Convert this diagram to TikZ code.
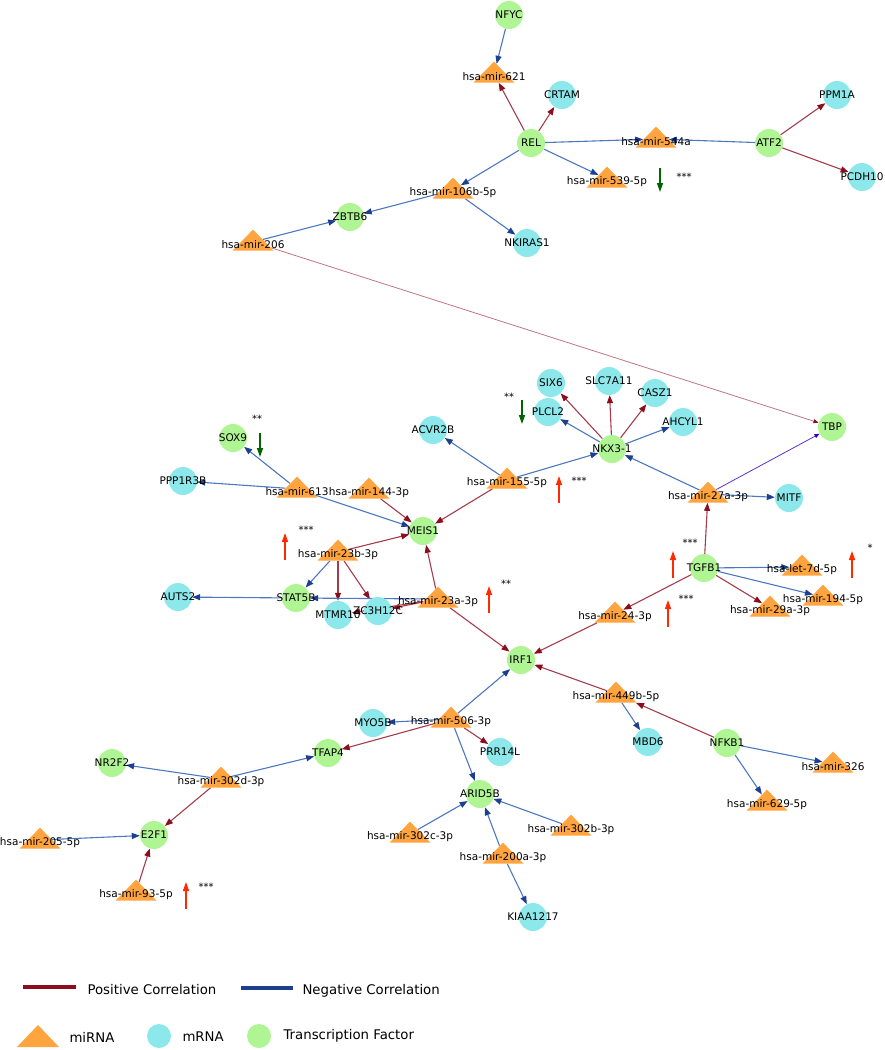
\documentclass[tikz,border=0pt]{standalone}
\usepackage{fontspec}
\setmainfont{DejaVu Sans}
\usetikzlibrary{arrows.meta,shapes.geometric,backgrounds}
\definecolor{tfc}{HTML}{B0F593}
\definecolor{mrc}{HTML}{8CE8EA}
\definecolor{mirc}{HTML}{FFA43F}
\definecolor{posc}{HTML}{A53C4C}
\definecolor{postip}{HTML}{8B0D1E}
\definecolor{negc}{HTML}{4C78BF}
\definecolor{negtip}{HTML}{1C3F91}
\definecolor{upc}{HTML}{FF2A00}
\definecolor{downc}{HTML}{006400}

\begin{document}
\begin{tikzpicture}[x=1pt,y=-1pt,font=\fontsize{10.5}{12}\selectfont,
  tf/.style={circle,fill=tfc,inner sep=0pt,minimum size=28pt,label={center:#1}},
  mr/.style={circle,fill=mrc,inner sep=0pt,minimum size=28pt,label={center:#1}},
  mir/.style={isosceles triangle,isosceles triangle stretches,shape border rotate=90,
    fill=mirc,inner sep=0pt,minimum width=41pt,minimum height=21pt,label={[yshift=-3pt]center:#1}},
  posedge/.style={draw=posc,line width=1.1pt,-{Triangle[length=8pt,width=6pt,color=postip]}},
  negedge/.style={draw=negc,line width=1.1pt,-{Triangle[length=8pt,width=6pt,color=negtip]}},
  uparrow/.style={upc,line width=1.4pt,-{Triangle[length=9pt,width=6pt]}},
  downarrow/.style={downc,line width=1.4pt,-{Triangle[length=9pt,width=6pt]}},
  stars/.style={font=\fontsize{10}{11}\selectfont}]
\useasboundingbox (0,0) rectangle (885,1050);

\node[tf=NFYC] (nfyc) at (509,15) {};
\node[tf=REL] (rel) at (531,143) {};
\node[tf=ATF2] (atf2) at (769,143) {};
\node[tf=ZBTB6] (zbtb6) at (350,217) {};
\node[tf=TBP] (tbp) at (832,427) {};
\node[tf=NKX3-1] (nkx) at (612,449) {};
\node[tf=SOX9] (sox9) at (233,438) {};
\node[tf=MEIS1] (meis1) at (423,531) {};
\node[tf=STAT5B] (stat5b) at (296,598) {};
\node[tf=TGFB1] (tgfb1) at (704,568) {};
\node[tf=IRF1] (irf1) at (521,660) {};
\node[tf=NFKB1] (nfkb1) at (727,743) {};
\node[tf=TFAP4] (tfap4) at (328,753) {};
\node[tf=NR2F2] (nr2f2) at (112,763) {};
\node[tf=ARID5B] (arid5b) at (480,794) {};
\node[tf=E2F1] (e2f1) at (154,835) {};

\node[mr=CRTAM] (crtam) at (562,95) {};
\node[mr=PPM1A] (ppm1a) at (837,95) {};
\node[mr=PCDH10] (pcdh10) at (862,177) {};
\node[mr=NKIRAS1] (nkiras1) at (527,243) {};
\node[mr=SIX6] (six6) at (551,383) {};
\node[mr=SLC7A11] (slc7a11) at (609,381) {};
\node[mr=CASZ1] (casz1) at (655,393) {};
\node[mr=PLCL2] (plcl2) at (548,412) {};
\node[mr=AHCYL1] (ahcyl1) at (683,422) {};
\node[mr=ACVR2B] (acvr2b) at (433,430) {};
\node[mr=PPP1R3B] (ppp1r3b) at (183,481) {};
\node[mr=MITF] (mitf) at (789,498) {};
\node[mr=AUTS2] (auts2) at (178,597) {};
\node[mr=MTMR10] (mtmr10) at (338,615) {};
\node[mr=ZC3H12C] (zc3h12c) at (378,611) {};
\node[mr=MYO5B] (myo5b) at (373,723) {};
\node[mr=PRR14L] (prr14l) at (500,752) {};
\node[mr=MBD6] (mbd6) at (648,742) {};
\node[mr=KIAA1217] (kiaa1217) at (533,917) {};

\node[mir=hsa-mir-621] (m621) at (494,74) {};
\node[mir=hsa-mir-544a] (m544a) at (656,139) {};
\node[mir=hsa-mir-539-5p] (m539) at (607,179) {};
\node[mir=hsa-mir-106b-5p] (m106b) at (453,190) {};
\node[mir=hsa-mir-206] (m206) at (253,242) {};
\node[mir=hsa-mir-155-5p] (m155) at (507,480) {};
\node[mir=hsa-mir-613] (m613) at (297,489) {};
\node[mir=hsa-mir-144-3p] (m144) at (369,490) {};
\node[mir=hsa-mir-27a-3p] (m27a) at (708,494) {};
\node[mir=hsa-mir-23b-3p] (m23b) at (338,552) {};
\node[mir=hsa-mir-23a-3p] (m23a) at (438,599) {};
\node[mir=hsa-let-7d-5p] (let7d) at (802,567) {};
\node[mir=hsa-mir-194-5p] (m194) at (823,597) {};
\node[mir=hsa-mir-29a-3p] (m29a) at (770,608) {};
\node[mir=hsa-mir-24-3p] (m24) at (615,614) {};
\node[mir=hsa-mir-449b-5p] (m449b) at (616,694) {};
\node[mir=hsa-mir-506-3p] (m506) at (451,719) {};
\node[mir=hsa-mir-326] (m326) at (833,764) {};
\node[mir=hsa-mir-629-5p] (m629) at (767,802) {};
\node[mir=hsa-mir-302d-3p] (m302d) at (221,779) {};
\node[mir=hsa-mir-302b-3p] (m302b) at (571,827) {};
\node[mir=hsa-mir-302c-3p] (m302c) at (410,834) {};
\node[mir=hsa-mir-200a-3p] (m200a) at (503,855) {};
\node[mir=hsa-mir-205-5p] (m205) at (40,840) {};
\node[mir=hsa-mir-93-5p] (m93) at (136,892) {};

\begin{pgfonlayer}{background}
\foreach \a/\b in {rel/m621,rel/crtam,atf2/ppm1a,atf2/pcdh10,nkx/six6,nkx/slc7a11,nkx/casz1,
  m155/meis1,tgfb1/m27a,tgfb1/m29a,tgfb1/m24,m24/irf1,m144/meis1,m23b/meis1,m23b/mtmr10,
  m23b/zc3h12c,m23a/meis1,m23a/zc3h12c,m23a/mtmr10,m23a/irf1,m506/tfap4,m506/prr14l,
  m449b/irf1,nfkb1/m449b,m302d/e2f1,m93/e2f1}
  \draw[posedge] (\a) -- (\b);
\foreach \a/\b in {nfyc/m621,rel/m544a,atf2/m544a,rel/m539,rel/m106b,m106b/zbtb6,m106b/nkiras1,
  m206/zbtb6,nkx/plcl2,nkx/ahcyl1,m155/nkx,m155/acvr2b,m27a/nkx,m27a/mitf,tgfb1/let7d,
  tgfb1/m194,m613/sox9,m613/ppp1r3b,m613/meis1,m23b/stat5b,m23a/stat5b,stat5b/auts2,
  m506/irf1,m506/myo5b,m506/arid5b,m449b/mbd6,nfkb1/m326,nfkb1/m629,m302d/nr2f2,
  m302d/tfap4,m205/e2f1,m302c/arid5b,m302b/arid5b,m200a/arid5b,m200a/kiaa1217}
  \draw[negedge] (\a) -- (\b);
\draw[draw=posc!70,line width=.8pt,-{Triangle[length=5pt,width=4pt,color=postip]}] (m206) -- (tbp);
\draw[draw=blue!60!violet!80,line width=.8pt,-{Triangle[length=5pt,width=4pt,color=blue!70!violet]}] (m27a) -- (tbp);
\end{pgfonlayer}

\foreach \x/\y in {559/503,285/560,489/613,673/578,852/578,668/627,186/909}
  \draw[uparrow] (\x,\y) -- ++(0,-27);
\foreach \x/\y in {660/168,522/400,260/433}
  \draw[downarrow] (\x,\y) -- ++(0,24);
\foreach \x/\y/\s in {684/177/***,509/397/**,257/419/**,579/481/***,306/530/***,506/584/**,
  690/543/***,870/548/*,686/599/***,206/887/***}
  \node[stars] at (\x,\y) {\s};

\draw[postip,line width=3.3pt] (23,987) -- (76,987);
\node[anchor=west,font=\fontsize{13.3}{15}\selectfont] at (84,990) {Positive Correlation};
\draw[negtip,line width=3.3pt] (241,988) -- (293,988);
\node[anchor=west,font=\fontsize{13.3}{15}\selectfont] at (299,991) {Negative Correlation};
\fill[mirc] (17,1047) -- (38,1025) -- (59,1047) -- cycle;
\node[anchor=west,font=\fontsize{13.3}{15}\selectfont] at (66,1037) {miRNA};
\fill[mrc] (159,1036) circle (12);
\node[anchor=west,font=\fontsize{13.3}{15}\selectfont] at (179,1037) {mRNA};
\fill[tfc] (259,1036) circle (12);
\node[anchor=west,font=\fontsize{13.3}{15}\selectfont] at (280,1036) {Transcription Factor};
\end{tikzpicture}
\end{document}
